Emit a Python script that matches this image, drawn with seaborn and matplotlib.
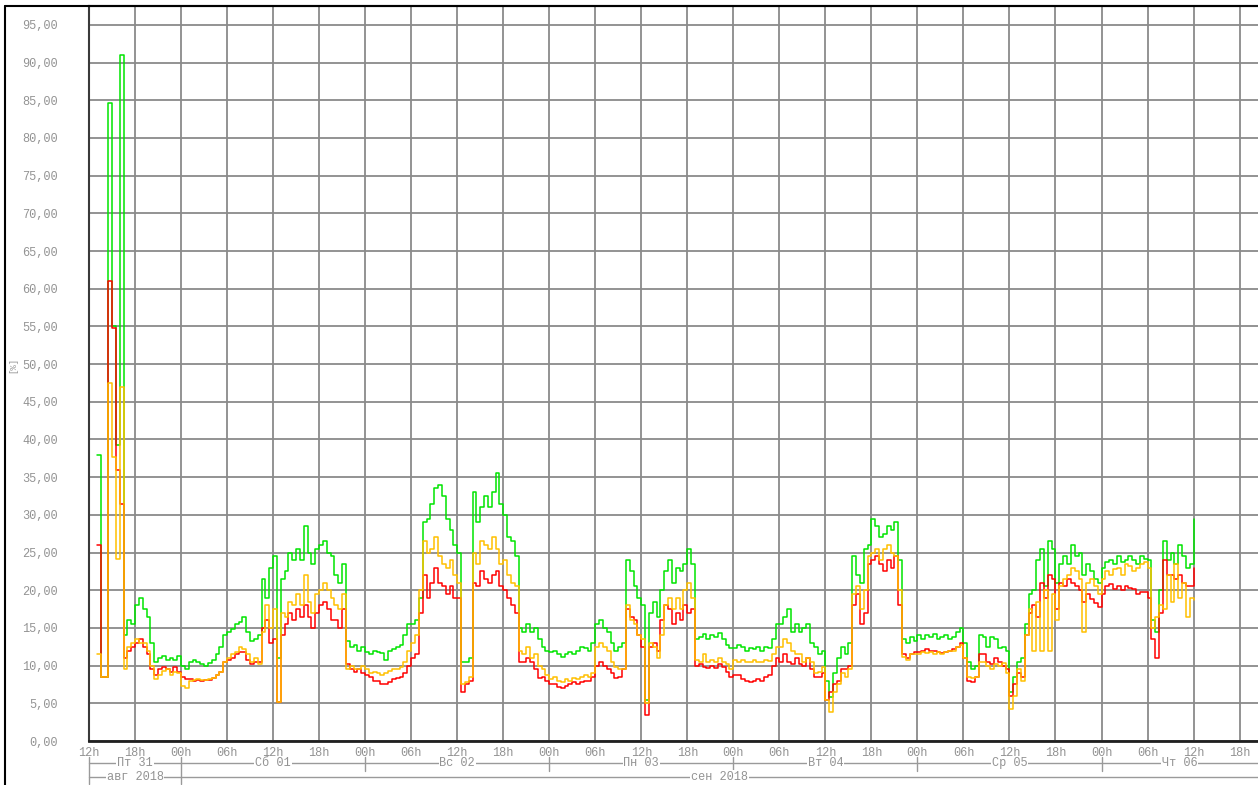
import numpy as np
import pandas as pd
import matplotlib
matplotlib.use("Agg")
import matplotlib.pyplot as plt
import matplotlib.dates as mdates
import matplotlib.transforms as mtrans
from matplotlib.lines import Line2D
import seaborn as sns

nan = np.nan

# ---------------- data (30-minute steps from 31.08.2018 12:00) ----------------
start_time = "2018-08-31 12:00"
step = "30min"

green = [
    nan, nan, 38, 8.5, nan, 84.6, 55, 39.3, 91, 14, 16, 15.5,
    18, 19, 17.5, 16.5, 13, 10.5, 11, 11.3, 10.7, 11, 10.8, 11.3,
    10, 9.6, 10.5, 10.8, 10.5, 10.2, 10.0, 10.3, 10.8, 11.5, 12.5, 14,
    14.5, 14.8, 15.5, 15.8, 16.5, 14.5, 13.2, 13.5, 14, 21.5, 19, 23,
    24.5, 11, 21.5, 22.5, 25, 24, 25.5, 24, 28.5, 25, 23.5, 25.5,
    26, 26.5, 25, 24.5, 22, 21, 23.5, 13.2, 12.5, 12.8, 12, 12.5,
    11.8, 11.5, 12, 11.8, 11.7, 10.8, 12, 12.2, 12.5, 12.8, 14, 15.5,
    15.5, 16, 19, 29, 29.5, 31.5, 33.5, 34, 32.5, 29.5, 28, 26,
    25, 10.5, 10.5, 11, 33, 29, 31, 32.5, 31, 33, 35.5, 31.5,
    30, 27, 26.5, 24.5, 15, 14.5, 15.5, 14.5, 15, 13.5, 12.5, 12,
    11.8, 12, 11.5, 11.2, 11.5, 11.8, 11.5, 12, 12.5, 12.3, 12, 13,
    15.5, 16, 15, 14.5, 13, 12, 12.5, 13, 24, 22.5, 20.5, 19,
    18, 5.5, 17, 18.5, 16.5, 20, 22.5, 24, 21, 23, 22.5, 23.5,
    25.5, 23.5, 13.5, 13.8, 14.2, 13.5, 14, 13.8, 14.3, 13.5, 12.8, 12.3,
    12.3, 12.8, 12.5, 12, 12.3, 12.2, 12.5, 12, 12.5, 12.3, 13.5, 15.5,
    15.5, 16.5, 17.5, 14.5, 15.5, 14.5, 15, 15.5, 13, 12.5, 11.5, 12,
    8, 5.8, 9, 11, 12.5, 11.5, 13, 24.5, 22, 21, 25.5, 26,
    29.5, 28.5, 27, 27.5, 28.5, 28, 29, 24, 13.5, 13, 13.8, 13.2,
    14, 13.5, 14, 13.8, 14.2, 13.5, 13.8, 14, 13.5, 13.8, 14.5, 15,
    13, 10.5, 9.5, 10, 14, 13.8, 12.5, 13.8, 13.5, 12.3, 12.5, 12,
    6.5, 8.5, 10.5, 11, 15.5, 19.5, 20, 24, 25.5, 20.5, 26.5, 25.5,
    21, 23.5, 24.5, 23.5, 26, 24.5, 25, 22, 23.5, 22.5, 21.5, 21,
    23, 23.8, 24, 23.5, 24.5, 23.8, 24, 24.5, 24, 23.5, 24.5, 24.2,
    24, 16, 14.5, 20, 26.5, 24, 25, 23.5, 26, 24.5, 23, 23.5,
    29.5,
]

red = [
    nan, nan, 26, 8.5, nan, 61, 54.8, 36, 31.5, 11, 12, 12.5,
    13, 13.5, 12.5, 11.5, 9.5, 8.7, 9.5, 9.8, 9.5, 9.2, 9.8, 9.2,
    8.5, 8.2, 8.2, 8.0, 8.1, 8.0, 8.1, 8.1, 8.3, 8.8, 9.2, 10.5,
    10.8, 11, 11.5, 11.8, 11.8, 10.8, 10.2, 10.5, 10.5, 15, 16, 13,
    13.5, 5.2, 14, 15.5, 17, 16, 17.5, 16.5, 18, 16.5, 15, 17,
    18, 18.5, 17.5, 16, 16, 15, 17.5, 10.2, 9.5, 9.2, 9.5, 9,
    8.8, 8.5, 8, 8, 7.5, 7.6, 7.8, 8.2, 8.3, 8.5, 9, 10,
    11, 11.5, 17, 22, 19, 21, 23, 21, 20.5, 19.5, 20.5, 19,
    19, 6.5, 7.5, 8, 21, 20.5, 22.5, 21.5, 21, 22, 22.5, 20.5,
    20, 19, 18, 17, 10.5, 10.5, 11, 10.5, 9.5, 8.3, 8.5, 8,
    7.6, 7.5, 7.2, 7.0, 7.3, 7.5, 7.8, 7.6, 7.8, 8, 8, 8.5,
    10, 10.5, 10, 9.5, 9, 8.3, 8.5, 9.5, 17.5, 16.5, 16, 14,
    12.5, 3.5, 12.5, 13, 12, 16, 18, 17.5, 15.5, 17, 16, 18,
    17, 17.5, 10, 10.2, 9.8, 9.7, 10, 9.7, 10.2, 9.8, 9.2, 8.5,
    8.8, 8.7, 8.2, 8, 7.8, 8, 8.2, 8, 8.5, 8.7, 10, 11,
    10.5, 11.5, 10.5, 10.2, 11, 10.2, 10, 11, 9.5, 8.5, 8.5, 9,
    5.5, 6.5, 7.5, 8, 9.5, 9.5, 10, 18, 19.5, 15.5, 17, 23.5,
    24, 24.5, 23.5, 22.5, 24, 23, 24.5, 18, 11.5, 11, 11.5, 11.8,
    11.8, 12, 12.2, 12, 12, 11.8, 11.7, 11.8, 12, 12.2, 12.5, 13,
    11, 8, 7.8, 8.5, 11.5, 11.5, 10.5, 10.2, 11, 10.5, 10, 9.5,
    6, 7.5, 9, 8.5, 14, 17, 18, 16.5, 21, 19, 22, 21.5,
    17.5, 21, 20.5, 21.5, 21, 20.5, 20, 18.5, 19.5, 18.8, 18.3, 17.8,
    19.5, 20.5, 20.8, 20.2, 20.5, 20, 20.5, 20.3, 20.2, 19.5, 19.7, 19.8,
    19, 13.5, 11, 17, 24, 22, 22, 21.5, 22, 21, 20.5, 20.5,
    23,
]

orange = [
    nan, nan, 11.5, 8.5, nan, 47.5, 37.7, 24.1, 47, 9.5, 12.5, 13,
    13.5, 13, 13, 12, 10, 8.2, 8.8, 9.3, 9.5, 8.8, 9.2, 9.0,
    7.3, 7.0, 8, 8.1, 8.2, 8.1, 8.1, 8.2, 8.4, 8.8, 9.2, 10.5,
    11, 11.5, 11.8, 12.5, 12.2, 11.5, 10.5, 11, 10.2, 14.5, 18, 15,
    17.5, 5.2, 17, 16.5, 18.5, 18, 19.5, 18, 22, 18.5, 17, 19.5,
    20, 21, 20, 19, 18, 17.5, 19.5, 9.5, 10, 9.5, 9.5, 10,
    9.5, 9, 9.2, 9, 8.8, 9, 9.3, 9.5, 9.5, 9.8, 10.5, 12,
    13, 14, 20, 26.5, 25, 25.5, 27, 24.5, 23.5, 23, 24, 22,
    21, 7.5, 7.8, 8.5, 25, 23.5, 26.5, 26, 25.5, 27, 25.5, 23.5,
    24, 22, 21, 20.5, 12, 11.5, 12.5, 11, 11.5, 10, 9.5, 8.8,
    8.2, 8.5, 8, 7.8, 8.2, 8, 8.3, 8.2, 8.5, 8.7, 8.5, 9,
    12.5, 13, 12.5, 12, 10.5, 9.8, 9.5, 9.5, 18, 16, 15.5, 14,
    13.5, 5, 13, 12.5, 11, 14, 18, 19, 17.5, 19, 17.5, 20,
    21, 19, 10.8, 10.5, 11.5, 10.5, 10.8, 10.5, 11, 10.5, 10.2, 9.5,
    10.8, 10.5, 10.8, 10.5, 10.5, 10.8, 10.5, 10.5, 10.7, 10.6, 11.5, 12.5,
    12.5, 13.5, 13, 12, 11.5, 11.5, 10.5, 11, 10.5, 9, 9.2, 9.8,
    5.5, 3.8, 6.5, 7.5, 9, 8.5, 9.5, 19.5, 20.5, 17.5, 20, 24.5,
    25, 25.5, 24, 25.5, 26, 25, 24.5, 20, 11.2, 10.8, 11.5, 11.5,
    11.5, 11.8, 11.7, 11.8, 11.6, 11.8, 11.5, 11.8, 12, 12, 12.5, 12.8,
    11, 8.5, 8.3, 8.5, 10.5, 10.5, 10, 9.5, 10.2, 10, 10.3, 9,
    4.2, 6, 9.5, 8, 14, 17.5, 12, 18.5, 12, 20, 12, 19.5,
    16, 20.5, 21.5, 22, 23, 22.5, 21.5, 14.5, 21, 21.5, 20.5, 19.5,
    21.5, 22.5, 22, 22.8, 23, 22, 23.5, 23.2, 22.5, 23, 23.5, 23.8,
    23, 15, 16.5, 18, 17.5, 22, 18.5, 23.5, 19, 21, 16.5, 19,
    18.7,
]

series_names = ["green", "red", "orange"]
series_colors = {"green": "#00e400", "red": "#ff0000", "orange": "#ffc000"}

y_ticks = list(range(0, 100, 5))
y_ticklabels = [f"{v:.2f}".replace(".", ",") for v in y_ticks]
y_label = "[%]"

day_labels = ["Пт 31", "Сб 01", "Вс 02", "Пн 03", "Вт 04", "Ср 05", "Чт 06"]
day_bounds = ["2018-08-31 12:00", "2018-09-01 00:00", "2018-09-02 00:00",
              "2018-09-03 00:00", "2018-09-04 00:00", "2018-09-05 00:00",
              "2018-09-06 00:00"]
month_labels = ["авг 2018", "сен 2018"]
month_bounds = ["2018-08-31 12:00", "2018-09-01 00:00"]
x_end = "2018-09-06 20:24"

# ---------------- build frame ----------------
n = len(green)
times = pd.date_range(start_time, periods=n, freq=step)
df = pd.DataFrame({
    "time": np.tile(times, 3),
    "value": np.concatenate([green, red, orange]),
    "series": np.repeat(series_names, n),
})

# ---------------- figure ----------------
W, H = 1258, 785
sns.set_style("white")
plt.rcParams["font.family"] = ["Liberation Mono", "DejaVu Sans Mono"]
txt_color = "#939393"
grid_color = "#8a8a8a"
fs = 8.6

fig = plt.figure(figsize=(W / 100, H / 100), dpi=100)
ax = fig.add_axes([89 / W, 1 - 741 / H, (W - 89) / W, (741 - 6) / H])

sns.lineplot(data=df, x="time", y="value", hue="series", hue_order=series_names,
             palette=series_colors, estimator=None, sort=False,
             drawstyle="steps-post", lw=1.1, legend=False, ax=ax)

x0 = pd.Timestamp(start_time)
x1 = pd.Timestamp(x_end)
ax.set_xlim(x0, x1)
ax.set_ylim(0, 97.5)
ax.set_xlabel("")
ax.set_ylabel("")

ax.set_yticks(y_ticks)
ax.set_yticklabels(y_ticklabels)
ax.xaxis.set_major_locator(mdates.HourLocator(byhour=[0, 6, 12, 18]))
ax.xaxis.set_major_formatter(mdates.DateFormatter("%Hh"))

ax.grid(True, color=grid_color, lw=1.3)
ax.set_axisbelow(True)
ax.tick_params(axis="y", length=5.8, width=1.3, color=grid_color,
               pad=16.5, labelsize=fs, labelcolor=txt_color)
ax.tick_params(axis="x", length=0, pad=4, labelsize=fs, labelcolor=txt_color)

ax.spines["right"].set_visible(False)
ax.spines["left"].set_color("#3a3a3a")
ax.spines["left"].set_linewidth(1.5)
ax.spines["bottom"].set_color("#202020")
ax.spines["bottom"].set_linewidth(2)
ax.spines["top"].set_color("black")
ax.spines["top"].set_linewidth(1.5)

# outer frame (left + top)
fig.add_artist(Line2D([5 / W, 5 / W], [0, 1 - 6 / H], transform=fig.transFigure,
                      color="black", lw=1.5))
fig.add_artist(Line2D([5 / W, 1], [1 - 6 / H, 1 - 6 / H], transform=fig.transFigure,
                      color="black", lw=1.5))

# y label
fig.text(13 / W, 1 - 365 / H, y_label, rotation=90, ha="center", va="center",
         fontsize=6.5, color=txt_color)

# date rows below axis
bt = mtrans.blended_transform_factory(ax.transData, fig.transFigure)
def yf(px):
    return 1 - px / H

xn0 = mdates.date2num(x0)
xn1 = mdates.date2num(x1)
row_color = "#9a9a9a"
day_y, month_y = 763.3, 776.7
for yy in (day_y, month_y):
    ax.plot([xn0, xn1], [yf(yy), yf(yy)], transform=bt, clip_on=False,
            color=row_color, lw=1.0)

day_nums = [mdates.date2num(pd.Timestamp(d)) for d in day_bounds] + [xn1]
month_nums = [mdates.date2num(pd.Timestamp(d)) for d in month_bounds] + [xn1]

for d in day_nums[:-1]:
    if d in month_nums:
        ax.plot([d, d], [yf(757), yf(784)], transform=bt, clip_on=False,
                color=row_color, lw=1.0)
    else:
        ax.plot([d, d], [yf(757), yf(771)], transform=bt, clip_on=False,
                color=row_color, lw=1.0)

for lab, a, b in zip(day_labels, day_nums[:-1], day_nums[1:]):
    ax.text((a + b) / 2, yf(day_y), lab, transform=bt, ha="center", va="center",
            fontsize=fs, color=txt_color,
            bbox=dict(fc="white", ec="none", pad=0.6))
for lab, a, b in zip(month_labels, month_nums[:-1], month_nums[1:]):
    ax.text((a + b) / 2, yf(month_y), lab, transform=bt, ha="center", va="center",
            fontsize=fs, color=txt_color,
            bbox=dict(fc="white", ec="none", pad=0.6))

fig.savefig("out.png", dpi=100)
